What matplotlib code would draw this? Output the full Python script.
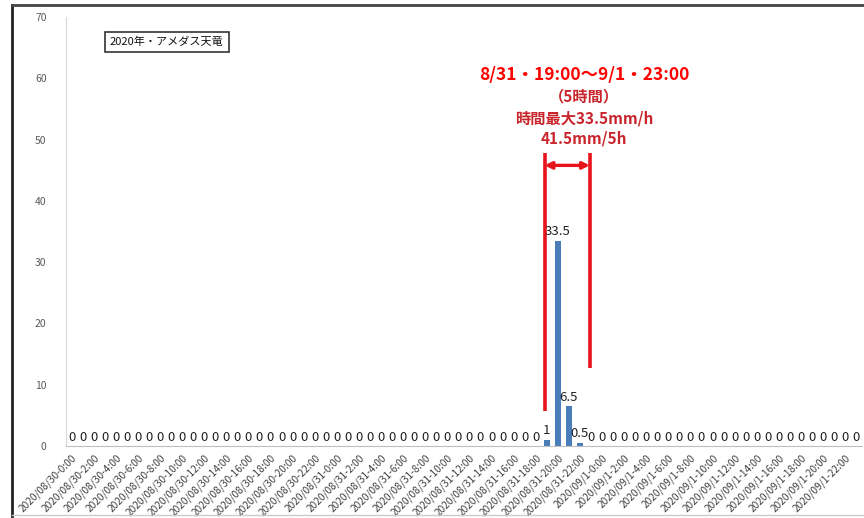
import matplotlib
matplotlib.use("Agg")
import matplotlib.pyplot as plt
from matplotlib.lines import Line2D

plt.rcParams['font.family'] = ['Noto Sans CJK JP', 'DejaVu Sans']

# hourly rainfall, 2020/08/30 0:00 .. 2020/09/01 23:00
days = ['2020/08/30', '2020/08/31', '2020/09/1']
hours = list(range(24))
labels = [f'{d}-{h}:00' for d in days for h in hours]
rain = [0] * 72
rain[43] = 1      # 8/31 19:00
rain[44] = 33.5   # 8/31 20:00
rain[45] = 6.5    # 8/31 21:00
rain[46] = 0.5    # 8/31 22:00

title_box = '2020年・アメダス天竜'
note_head = '8/31・19:00～9/1・23:00'
note_lines = ['（5時間）', '時間最大33.5mm/h', '41.5mm/5h']

fig = plt.figure(figsize=(8.64, 5.18), dpi=100)
ax = fig.add_axes([0.0764, 0.139, 0.921, 0.828])

x = list(range(len(rain)))
ax.bar(x, rain, width=0.55, color='#4a7ebb')
for xi, v in zip(x, rain):
    ax.text(xi, v + 0.4, f'{v:g}', ha='center', va='bottom', fontsize=9.5, color='#222222')

ax.set_xlim(-0.5, 71.5)
ax.set_ylim(0, 70)
ax.set_yticks(range(0, 71, 10))
ax.set_xticks(x[::2])
ax.set_xticklabels(labels[::2], rotation=45, ha='right', rotation_mode='anchor',
                   fontsize=7.3, color='#404040')
ax.tick_params(axis='both', length=0)
ax.tick_params(axis='y', labelsize=7.5, colors='#595959', pad=14)
ax.tick_params(axis='x', pad=5)
for s in ['top', 'right']:
    ax.spines[s].set_visible(False)
ax.spines['left'].set_color('#d9d9d9')
ax.spines['bottom'].set_color('#bfbfbf')

# title box
ax.text(0.055, 0.942, title_box, transform=ax.transAxes, fontsize=8,
        ha='left', va='center', color='#111111',
        bbox=dict(boxstyle='square,pad=0.45', fc='white', ec='#333333', lw=1.2))

# red annotation
red = '#e8141c'
x_left, x_right = 42.8, 46.9
ax.plot([x_left, x_left], [5.7, 47.8], color=red, lw=2.6, solid_capstyle='butt')
ax.plot([x_right, x_right], [12.7, 47.8], color=red, lw=2.6, solid_capstyle='butt')
ax.annotate('', xy=(x_left, 45.8), xytext=(x_right, 45.8),
            arrowprops=dict(arrowstyle='<|-|>', color=red, lw=2.4,
                            mutation_scale=10, shrinkA=0, shrinkB=0))

xc = 46.4
ax.text(xc, 60.5, note_head, ha='center', va='center', fontsize=12.5,
        fontweight='bold', color='#ff0000')
for yv, t in zip([57.0, 53.5, 50.2], note_lines):
    ax.text(xc, yv, t, ha='center', va='center', fontsize=11,
            fontweight='bold', color='#c8262c')

# outer frame
fig.add_artist(Line2D([0.014, 0.014], [0.0, 0.99], color='#222222', lw=2,
                      transform=fig.transFigure))
fig.add_artist(Line2D([0.014, 1.0], [0.99, 0.99], color='#444444', lw=2,
                      transform=fig.transFigure))
fig.add_artist(Line2D([0.014, 1.0], [0.006, 0.006], color='#cccccc', lw=1,
                      transform=fig.transFigure))

fig.savefig('out.png', dpi=100)
